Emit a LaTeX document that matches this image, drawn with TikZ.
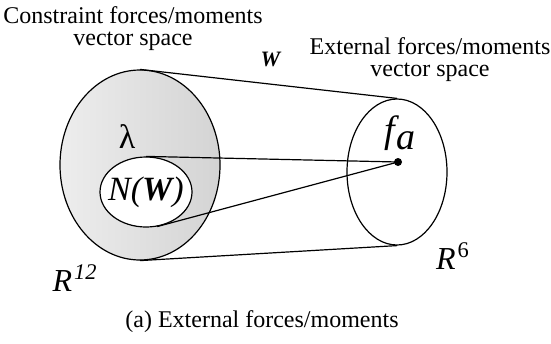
\documentclass[tikz,border=0pt]{standalone}
\usepackage{fontspec}
\setmainfont{Liberation Serif}
\usetikzlibrary{shapes.geometric}

\begin{document}
\begin{tikzpicture}[x=0.5pt,y=-0.5pt,
		% Style of the vector spaces
		space/.style={
			draw,
			ellipse,
			line width=0.6pt,
			inner sep=0pt
		},
		% Style of the mapping lines
		link/.style={
			line width=0.6pt
		},
		% Style of the titles (#1 = line distance)
		title/.style={
			font=\fontsize{12}{#1}\selectfont,
			align=center
		},
		% Style of the symbols
		symb/.style={
			font=\fontsize{#1}{#1}\selectfont,
			inner sep=0pt
		}
		]
		\useasboundingbox (0,0) rectangle (551,343);
		
		% --- SPACES ---
		\node[space, left color=gray!14, right color=gray!34, minimum width=80pt, minimum height=95pt] (big) at (140,165) {};
		\node[space, fill=white, minimum width=46pt, minimum height=35pt] (null) at (146,192) {};
		\node[space, minimum width=50pt, minimum height=73pt] (ext) at (397,172) {};
		\node[circle, fill, inner sep=0pt, minimum size=4pt] (fa) at (398,162) {};
		
		% --- LINES ---
		\draw[link] (big.north) -- (ext.north);
		\draw[link] (big.south) -- (ext.south);
		\draw[link] (null.north) -- (fa.center);
		\draw[link] (null.-72) -- (fa.center);
		
		% --- LABELS ---
		\node[title=11] (ctitle) at (133,29) {Constraint forces/moments\\vector space};
		\node[title=11] (etitle) at (430,60) {External forces/moments\\vector space};
		\node[symb=11] (wlab) at (271,59) {\textbf{\textit{W}}};
		\node[symb=17] (lam) at (127,137) {λ};
		\node[symb=19] (falab) at (400,133) {\textit{f}\kern-1.5pt\raisebox{-0.4ex}{\textit{a}}};
		\node[symb=17] (nlab) at (146,192) {\textit{N(\textbf{W})}};
		\node[symb=16] (r12) at (75,278) {\textit{R}\kern1pt\textsuperscript{\textit{12}}};
		\node[symb=16] (r6) at (453,256) {\textit{R}\kern1pt\textsuperscript{6}};
		\node[title=14] (caption) at (262,322) {(a) External forces/moments};
	\end{tikzpicture}
\end{document}
